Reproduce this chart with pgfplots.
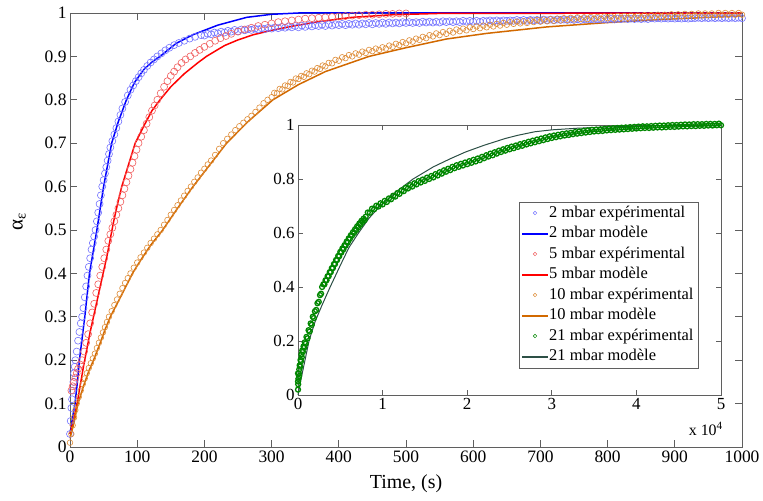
\documentclass[border=0pt]{standalone}
\usepackage{pgfplots}
\pgfplotsset{compat=1.18}
\usepackage{fontspec}
\setmainfont{Liberation Serif}
\definecolor{cBlueLine}{RGB}{0,0,255}
\definecolor{cBlueMark}{RGB}{115,115,255}
\definecolor{cRedLine}{RGB}{255,0,0}
\definecolor{cRedMark}{RGB}{240,95,95}
\definecolor{cOrangeLine}{RGB}{210,105,0}
\definecolor{cOrangeMark}{RGB}{222,140,55}
\definecolor{cGreenMark}{RGB}{0,135,0}
\definecolor{cGreenLine}{RGB}{45,80,70}
\definecolor{axgray}{RGB}{95,95,95}
\pgfplotsset{
  legBE/.style={legend image code/.code={\draw[cBlueMark, line width=0.5bp] (12.5bp,0bp) circle[radius=1.8bp];}},
  legBM/.style={legend image code/.code={\fill[cBlueLine] (0bp,-0.5bp) rectangle (25bp,0.5bp);}},
  legRE/.style={legend image code/.code={\draw[cRedMark, line width=0.5bp] (12.5bp,0bp) circle[radius=1.8bp];}},
  legRM/.style={legend image code/.code={\fill[cRedLine] (0bp,-0.5bp) rectangle (25bp,0.5bp);}},
  legOE/.style={legend image code/.code={\draw[cOrangeMark, line width=0.5bp] (12.5bp,0bp) circle[radius=1.8bp];}},
  legOM/.style={legend image code/.code={\fill[cOrangeLine] (0bp,-0.5bp) rectangle (25bp,0.5bp);}},
  legGE/.style={legend image code/.code={\draw[cGreenMark, line width=0.5bp] (12.5bp,0bp) circle[radius=1.8bp];}},
  legGM/.style={legend image code/.code={\fill[cGreenLine] (0bp,-0.5bp) rectangle (25bp,0.5bp);}},
}
\begin{document}
\begin{tikzpicture}
\begin{axis}[name=main, at={(0,0)}, anchor=south west,
  scale only axis, width=672bp, height=434bp,
  xmin=0, xmax=1000, ymin=0, ymax=1,
  xtick={0,100,...,1000}, ytick={0,0.1,0.2,0.3,0.4,0.5,0.6,0.7,0.8,0.9,1},
  tick align=inside, tick pos=both, major tick length=7bp,
  axis line style={axgray, line width=0.7bp}, every tick/.style={axgray, line width=0.7bp},
  /pgf/number format/assume math mode=true, /pgf/number format/1000 sep={},
  tick label style={font=\fontsize{17.5}{18}\selectfont},
  xlabel={Time, (s)}, ylabel={α\textsubscript{ε}},
  xlabel style={font=\fontsize{20}{20}\selectfont, yshift=-6bp},
  ylabel style={font=\fontsize{21}{21}\selectfont, yshift=12bp, xshift=8bp},
  clip=false,
]
% 2 mbar experimental
\addplot[only marks, mark=o, mark size=3.5bp, cBlueMark, line width=0.6bp] coordinates {
(0,0.03)(1,0.06)(2,0.09)(3,0.11)(4,0.13)(5,0.15)(6,0.17)(7,0.185)(8,0.20)(10,0.22)(12,0.245)(14,0.265)(16,0.285)(18,0.30)(20,0.32)(22,0.345)(24,0.37)(26,0.395)(28,0.415)(30,0.435)(32,0.455)(34,0.47)(36,0.485)(38,0.50)(40,0.52)(42,0.54)(44,0.56)(46,0.58)(48,0.60)(50,0.615)(52,0.63)(54,0.645)(56,0.66)(58,0.675)(60,0.69)(63,0.705)(66,0.72)(69,0.735)(72,0.75)(75,0.765)(78,0.78)(82,0.795)(86,0.81)(90,0.823)(94,0.833)(98,0.843)(102,0.852)(106,0.861)(110,0.869)(115,0.878)(120,0.886)(125,0.893)(130,0.90)(136,0.907)(142,0.914)(148,0.92)(155,0.926)(162,0.931)(170,0.936)(178,0.941)(186,0.945)(195,0.949)(205,0.952)(215,0.955)(225,0.957)(235,0.959)(245,0.961)(255,0.962)(265,0.963)(275,0.964)(285,0.965)(295,0.966)(305,0.967)(315,0.968)(325,0.969)(335,0.970)(345,0.971)(355,0.972)(365,0.972)(375,0.973)(385,0.974)(395,0.974)(405,0.975)(415,0.975)(425,0.976)(435,0.976)(445,0.977)(455,0.977)(465,0.978)(475,0.978)(485,0.978)(495,0.979)(505,0.979)(515,0.979)(525,0.980)(535,0.980)(545,0.980)(555,0.981)(565,0.981)(575,0.981)(585,0.982)(595,0.982)(605,0.982)(615,0.982)(625,0.983)(635,0.983)(645,0.983)(655,0.983)(665,0.984)(675,0.984)(685,0.984)(695,0.984)(705,0.985)(715,0.985)(725,0.985)(735,0.985)(745,0.985)(755,0.986)(765,0.986)(775,0.986)(785,0.986)(795,0.986)(805,0.987)(815,0.987)(825,0.987)(835,0.987)(845,0.987)(855,0.987)(865,0.988)(875,0.988)(885,0.988)(895,0.988)(905,0.988)(915,0.988)(925,0.988)(935,0.989)(945,0.989)(955,0.989)(965,0.989)(975,0.989)(985,0.989)(995,0.989)
(200,0.948)(210,0.951)(220,0.953)(230,0.955)(240,0.957)(250,0.958)(260,0.96)(270,0.961)(280,0.962)(290,0.963)(300,0.964)(310,0.965)(320,0.966)(330,0.967)(340,0.967)(350,0.968)(360,0.969)(370,0.970)(380,0.970)(390,0.971)(400,0.972)(410,0.972)(420,0.973)(430,0.973)(440,0.974)(450,0.974)(460,0.975)(470,0.975)(480,0.976)(490,0.976)(500,0.977)(510,0.977)(520,0.977)(530,0.978)(540,0.978)(550,0.978)(560,0.979)(570,0.979)(580,0.979)(590,0.980)(600,0.980)(610,0.980)(620,0.981)(630,0.981)(640,0.981)(650,0.982)(660,0.982)(670,0.982)(680,0.982)(690,0.983)(700,0.983)(710,0.983)(720,0.983)(730,0.984)(740,0.984)(750,0.984)(760,0.984)(770,0.985)(780,0.985)(790,0.985)(800,0.985)(810,0.985)(820,0.986)(830,0.986)(840,0.986)(850,0.986)(860,0.986)(870,0.987)(880,0.987)(890,0.987)(900,0.987)(910,0.987)(920,0.987)(930,0.988)(940,0.988)(950,0.988)(960,0.988)(970,0.988)(980,0.988)(990,0.988)(1000,0.988)
};
% 2 mbar model
\addplot[cBlueLine, line width=1.5bp] coordinates {
(0,0.03)(4,0.07)(7.5,0.1)(11,0.15)(14,0.2)(18,0.25)(22,0.3)(25.5,0.35)(29,0.4)(34.5,0.45)(40,0.5)(45,0.55)(50,0.6)(56,0.65)(62,0.7)(72,0.75)(84,0.8)(96,0.84)(110,0.87)(122,0.887)(134,0.9)(158,0.93)(183,0.95)(220,0.972)(263,0.99)(300,0.997)(340,1.0)(1000,1.0)
};
% 5 mbar experimental
\addplot[only marks, mark=o, mark size=3.5bp, cRedMark, line width=0.6bp] coordinates {
(2,0.13)(4,0.14)(6,0.15)(8,0.16)(10,0.17)(12,0.18)(15,0.19)(18,0.20)(21,0.22)(24,0.24)(27,0.26)(30,0.285)(33,0.31)(36,0.33)(39,0.355)(42,0.375)(45,0.395)(48,0.415)(51,0.435)(54,0.455)(57,0.475)(60,0.49)(63,0.505)(66,0.52)(69,0.535)(72,0.55)(75,0.565)(78,0.58)(81,0.595)(84,0.61)(87,0.625)(90,0.64)(93,0.655)(96,0.67)(99,0.685)(102,0.70)(106,0.715)(110,0.73)(114,0.745)(118,0.76)(122,0.775)(126,0.787)(130,0.80)(135,0.815)(140,0.83)(145,0.843)(150,0.855)(155,0.865)(160,0.875)(166,0.885)(172,0.893)(179,0.90)(186,0.908)(193,0.915)(200,0.922)(208,0.929)(216,0.936)(224,0.942)(232,0.947)(240,0.952)(250,0.957)(260,0.962)(270,0.966)(280,0.97)(290,0.973)(300,0.976)(310,0.979)(320,0.981)(330,0.983)(340,0.985)(350,0.987)(360,0.988)(370,0.989)(380,0.99)(390,0.991)(400,0.992)(410,0.993)(420,0.994)(430,0.995)(440,0.996)(450,0.996)(460,0.997)(470,0.998)(480,0.998)(490,0.999)(500,0.999)
};
% 5 mbar model
\addplot[cRedLine, line width=1.5bp] coordinates {
(0,0.03)(5,0.06)(10,0.095)(15,0.14)(20,0.185)(25,0.225)(30,0.265)(35,0.30)(40,0.335)(45,0.37)(50,0.405)(55,0.44)(60,0.48)(65,0.52)(70,0.555)(77,0.6)(85,0.64)(97,0.7)(110,0.74)(122,0.775)(134,0.8)(150,0.83)(170,0.86)(190,0.885)(203,0.9)(230,0.925)(250,0.938)(273,0.95)(300,0.96)(332,0.97)(370,0.98)(420,0.99)(480,0.996)(550,0.999)(1000,1.0)
};
% 10 mbar experimental
\addplot[only marks, mark=o, mark size=2.8bp, cOrangeMark, line width=0.6bp] coordinates {
(0,0.01)(2,0.03)(4,0.05)(6,0.068)(8,0.085)(10,0.10)(13,0.115)(16,0.13)(19,0.145)(22,0.158)(25,0.17)(28,0.182)(31,0.193)(34,0.204)(37,0.215)(40,0.228)(43,0.24)(46,0.252)(49,0.264)(52,0.276)(55,0.288)(58,0.30)(62,0.313)(66,0.327)(70,0.34)(74,0.353)(78,0.366)(82,0.378)(86,0.389)(90,0.40)(95,0.413)(100,0.425)(105,0.437)(110,0.448)(115,0.459)(120,0.47)(125,0.48)(130,0.49)(135,0.50)(140,0.512)(145,0.523)(150,0.535)(155,0.546)(160,0.557)(165,0.568)(170,0.579)(175,0.59)(180,0.60)(185,0.611)(190,0.621)(195,0.632)(200,0.641)(205,0.651)(210,0.66)(216,0.673)(222,0.687)(228,0.70)(234,0.71)(240,0.72)(246,0.73)(252,0.739)(258,0.747)(264,0.755)(270,0.763)(276,0.772)(282,0.782)(288,0.792)(294,0.80)(300,0.806)(308,0.815)(316,0.824)(324,0.832)(332,0.84)(340,0.848)(348,0.853)(356,0.859)(364,0.865)(372,0.871)(380,0.877)(390,0.884)(400,0.89)(410,0.896)(420,0.90)(430,0.904)(440,0.908)(450,0.912)(460,0.915)(470,0.918)(480,0.922)(490,0.926)(500,0.93)(510,0.934)(520,0.938)(530,0.942)(540,0.946)(550,0.949)(560,0.952)(570,0.955)(580,0.958)(590,0.96)(600,0.963)(610,0.965)(620,0.967)(630,0.969)(640,0.971)(650,0.973)(660,0.975)(670,0.976)(680,0.977)(690,0.979)(700,0.98)(710,0.981)(720,0.982)(730,0.983)(740,0.984)(750,0.985)(760,0.986)(770,0.986)(780,0.987)(790,0.987)(800,0.988)(810,0.988)(820,0.989)(830,0.989)(840,0.99)(850,0.99)(860,0.991)(870,0.991)(880,0.992)(890,0.992)(900,0.993)(910,0.993)(920,0.994)(930,0.994)(940,0.995)(950,0.995)(960,0.995)(970,0.996)(980,0.996)(990,0.996)(1000,0.996)
(304,0.816)(312,0.825)(320,0.833)(328,0.841)(336,0.849)(344,0.855)(352,0.861)(360,0.867)(368,0.873)(376,0.879)(385,0.885)(395,0.892)(405,0.898)(415,0.903)(425,0.907)(435,0.911)(445,0.915)(455,0.918)(465,0.921)(475,0.925)(485,0.929)(495,0.933)(505,0.937)(515,0.941)(525,0.945)(535,0.949)(545,0.953)(555,0.956)(565,0.959)(575,0.962)(585,0.964)(595,0.967)(605,0.969)(615,0.971)(625,0.973)(635,0.975)(645,0.977)(655,0.979)(665,0.98)(675,0.981)(685,0.983)(695,0.984)(705,0.985)(715,0.986)(725,0.987)(735,0.988)(745,0.989)(755,0.99)(765,0.99)(775,0.991)(785,0.991)(795,0.992)(805,0.992)(815,0.993)(825,0.993)(835,0.994)(845,0.994)(855,0.995)(865,0.995)(875,0.996)(885,0.996)(895,0.997)(905,0.997)(915,0.998)(925,0.998)(935,0.999)(945,0.999)(955,0.999)(965,1.0)(975,1.0)(985,1.0)(995,1.0)
};
% 10 mbar model
\addplot[cOrangeLine, line width=1.5bp] coordinates {
(0,0.02)(5,0.05)(12,0.1)(20,0.14)(28,0.175)(35,0.2)(45,0.24)(52,0.27)(60,0.3)(70,0.33)(80,0.36)(93,0.4)(105,0.43)(120,0.465)(138,0.5)(160,0.55)(183,0.6)(208,0.65)(233,0.7)(265,0.75)(302,0.8)(340,0.835)(380,0.865)(445,0.9)(500,0.92)(560,0.94)(620,0.953)(710,0.968)(800,0.978)(880,0.985)(950,0.99)(1000,0.993)
};
\end{axis}
\begin{axis}[name=inset, at={(228bp,52bp)}, anchor=south west,
  scale only axis, width=423bp, height=270bp,
  axis background/.style={fill=white},
  xmin=0, xmax=50000, ymin=0, ymax=1,
  xtick={0,10000,20000,30000,40000,50000}, ytick={0,0.2,0.4,0.6,0.8,1},
  scaled x ticks=base 10:-4,
  xtick scale label code/.code={x 10\textsuperscript{#1}},
  every x tick scale label/.style={at={(rel axis cs:1,0)}, anchor=north east, yshift=-27bp, xshift=2bp, inner sep=0pt, font=\fontsize{16}{16}\selectfont},
  tick align=inside, tick pos=both, major tick length=5bp,
  axis line style={axgray, line width=0.7bp}, every tick/.style={axgray, line width=0.7bp},
  /pgf/number format/assume math mode=true,
  tick label style={font=\fontsize{17}{17}\selectfont},
  clip=false,
  legend cell align=left,
  legend style={at={(0.946,0.1)}, anchor=south east, draw=axgray, fill=white,
    font=\fontsize{16.5}{16.5}\selectfont,
    nodes={text height=12bp, text depth=3.5bp, inner sep=1.5bp}, row sep=2bp, inner xsep=3bp, inner ysep=2bp},
]
\addlegendimage{legBE}
\addlegendentry{2 mbar expérimental}
\addlegendimage{legBM}
\addlegendentry{2 mbar modèle}
\addlegendimage{legRE}
\addlegendentry{5 mbar expérimental}
\addlegendimage{legRM}
\addlegendentry{5 mbar modèle}
\addlegendimage{legOE}
\addlegendentry{10 mbar expérimental}
\addlegendimage{legOM}
\addlegendentry{10 mbar modèle}
\addlegendimage{legGE}
\addlegendentry{21 mbar expérimental}
\addlegendimage{legGM}
\addlegendentry{21 mbar modèle}
% 21 mbar experimental
\addplot[forget plot, only marks, mark=o, mark size=2.5bp, cGreenMark, line width=1.3bp] coordinates {
(0,0.02)(0,0.05)(0,0.08)(20,0.04)(50,0.06)(100,0.08)(150,0.095)(200,0.11)(300,0.13)(400,0.15)(500,0.165)(650,0.18)(800,0.195)(1000,0.215)(1250,0.24)(1500,0.265)(1750,0.29)(2000,0.31)(2300,0.34)(2600,0.37)(2850,0.40)(3000,0.41)(3250,0.425)(3500,0.44)(3750,0.455)(4000,0.47)(4250,0.485)(4500,0.50)(4750,0.515)(5000,0.53)(5250,0.543)(5500,0.555)(5750,0.568)(6000,0.58)(6250,0.592)(6500,0.603)(6750,0.614)(7000,0.625)(7250,0.635)(7500,0.645)(7750,0.653)(8000,0.66)(8500,0.675)(9000,0.688)(9500,0.698)(10000,0.706)(10500,0.715)(11000,0.725)(11500,0.735)(12000,0.745)(12500,0.755)(13000,0.765)(13500,0.772)(14000,0.78)(14500,0.787)(15000,0.793)(15500,0.80)(16000,0.806)(16500,0.813)(17000,0.82)(17500,0.827)(18000,0.833)(18500,0.84)(19000,0.845)(19500,0.85)(20000,0.855)(20500,0.86)(21000,0.865)(21500,0.87)(22000,0.877)(22500,0.883)(23000,0.888)(23500,0.894)(24000,0.90)(24500,0.905)(25000,0.91)(25500,0.914)(26000,0.919)(26500,0.923)(27000,0.928)(27500,0.932)(28000,0.936)(28500,0.94)(29000,0.944)(29500,0.948)(30000,0.952)(30500,0.955)(31000,0.958)(31500,0.961)(32000,0.963)(32500,0.966)(33000,0.968)(33500,0.97)(34000,0.972)(34500,0.974)(35000,0.976)(35500,0.977)(36000,0.978)(36500,0.98)(37000,0.981)(37500,0.982)(38000,0.983)(38500,0.984)(39000,0.985)(39500,0.986)(40000,0.987)(40500,0.988)(41000,0.989)(41500,0.989)(42000,0.99)(42500,0.991)(43000,0.991)(43500,0.992)(44000,0.993)(44500,0.993)(45000,0.994)(45500,0.995)(46000,0.995)(46500,0.996)(47000,0.996)(47500,0.997)(48000,0.997)(48500,0.998)(49000,0.998)(49500,0.999)(50000,0.999)
(125,0.07)(250,0.105)(350,0.125)(450,0.14)(575,0.16)(725,0.175)(900,0.19)(1125,0.21)(1375,0.235)(1625,0.26)(1875,0.285)(2150,0.315)(2450,0.345)(2725,0.375)(3125,0.41)(3375,0.425)(3625,0.44)(3875,0.455)(4125,0.47)(4375,0.485)(4625,0.5)(4875,0.514)(5125,0.528)(5375,0.54)(5625,0.553)(5875,0.565)(6125,0.578)(6375,0.59)(6625,0.6)(6875,0.611)(7125,0.621)(7375,0.631)(7625,0.641)(7875,0.648)
(8250,0.676)(8750,0.69)(9250,0.701)(9750,0.71)(10250,0.719)(10750,0.728)(11250,0.738)(11750,0.748)(12250,0.758)(12750,0.768)(13250,0.777)(13750,0.784)(14250,0.792)(14750,0.798)(15250,0.805)(15750,0.811)(16250,0.818)(16750,0.825)(17250,0.832)(17750,0.838)(18250,0.845)(18750,0.851)(19250,0.856)(19750,0.861)(20250,0.866)(20750,0.871)(21250,0.876)(21750,0.882)(22250,0.888)(22750,0.894)(23250,0.899)(23750,0.905)(24250,0.91)(24750,0.915)(25250,0.92)(25750,0.924)(26250,0.929)(26750,0.933)(27250,0.938)(27750,0.942)(28250,0.946)(28750,0.95)(29250,0.954)(29750,0.958)(30250,0.961)(30750,0.964)(31250,0.967)(31750,0.969)(32250,0.971)(32750,0.974)(33250,0.976)(33750,0.978)(34250,0.98)(34750,0.982)(35250,0.983)(35750,0.984)(36250,0.986)(36750,0.987)(37250,0.988)(37750,0.989)(38250,0.99)(38750,0.991)(39250,0.992)(39750,0.993)(40250,0.994)(40750,0.995)(41250,0.995)(41750,0.996)(42250,0.997)(42750,0.998)(43250,0.998)(43750,0.999)(44250,1.0)(44750,1.0)(45250,1.001)(45750,1.002)(46250,1.002)(46750,1.003)(47250,1.003)(47750,1.003)(48250,1.004)(48750,1.004)(49250,1.004)(49750,1.005)
};
% 21 mbar model
\addplot[forget plot, cGreenLine, line width=1bp] coordinates {
(0,0.0)(300,0.05)(700,0.11)(1300,0.2)(2000,0.27)(2800,0.33)(3800,0.40)(5000,0.48)(6000,0.545)(7150,0.60)(8400,0.655)(9700,0.70)(11500,0.75)(13600,0.80)(16000,0.845)(18000,0.875)(19800,0.90)(22000,0.925)(24500,0.95)(26000,0.962)(28000,0.975)(30000,0.982)(33000,0.988)(37000,0.993)(42000,0.997)(50000,1.0)
};
\end{axis}
\pgfresetboundingbox
\path ([shift={(-70bp,-54bp)}]main.south west) rectangle ([shift={(21bp,13bp)}]main.north east);
\end{tikzpicture}
\end{document}
